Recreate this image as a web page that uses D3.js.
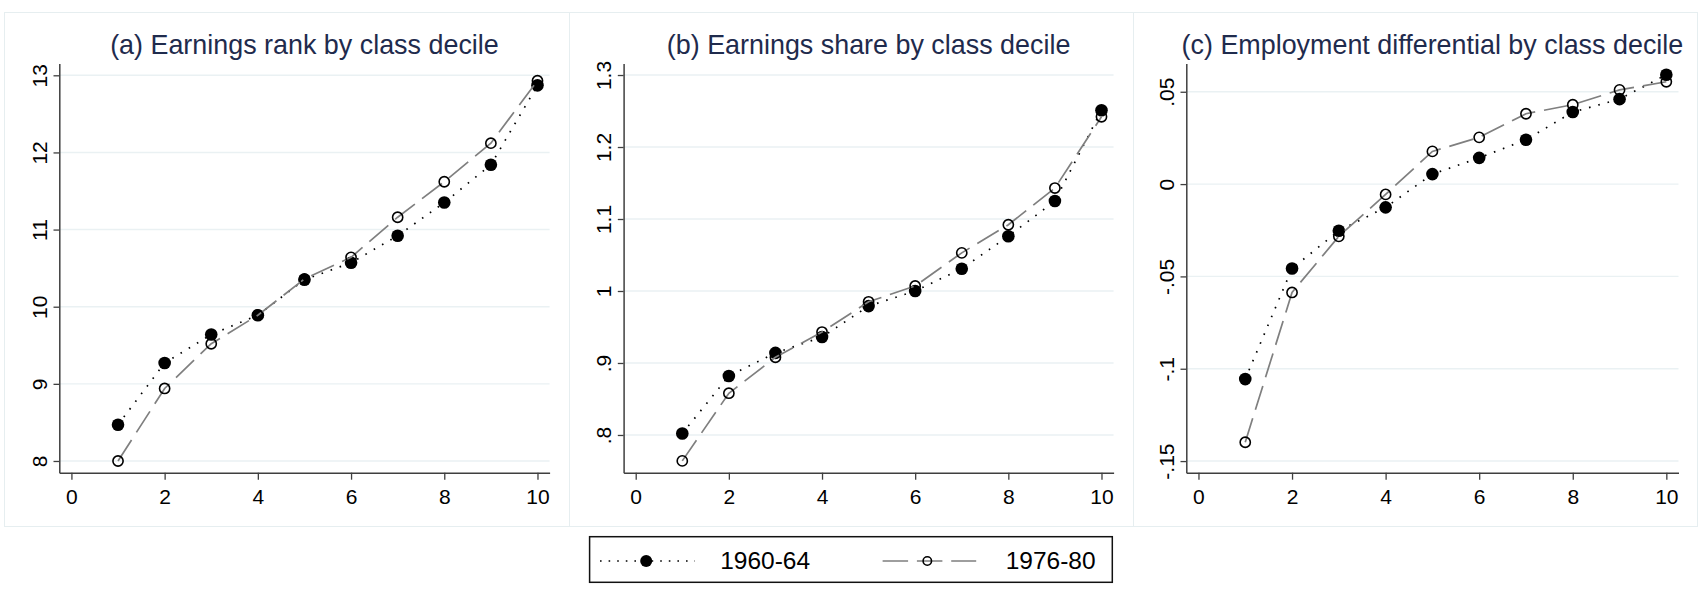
<!DOCTYPE html>
<html>
<head>
<meta charset="utf-8">
<script src="https://cdn.jsdelivr.net/npm/d3@7"></script>
<style>
  body { margin: 0; background: #fff; }
  svg { font-family: "Liberation Sans", Arial, sans-serif; display: block; }
</style>
</head>
<body>
<svg id="chart"></svg>
<script>
// class deciles on the x axis
const deciles = [1, 2, 3, 4, 5, 6, 7, 8, 9, 10];
const seriesNames = ["1960-64", "1976-80"];

// (a) earnings rank
const rank6064 = [8.47, 9.27, 9.64, 9.89, 10.35, 10.57, 10.92, 11.35, 11.84, 12.87];
const rank7680 = [8.0, 8.94, 9.52, 9.89, 10.36, 10.64, 11.16, 11.62, 12.12, 12.93];
// (b) earnings share
const share6064 = [0.802, 0.882, 0.914, 0.936, 0.979, 1.0, 1.031, 1.076, 1.125, 1.251];
const share7680 = [0.764, 0.858, 0.908, 0.943, 0.985, 1.007, 1.053, 1.092, 1.143, 1.242];
// (c) employment differential
const emp6064 = [-0.1056, -0.0457, -0.0253, -0.0126, 0.0054, 0.0142, 0.024, 0.039, 0.046, 0.0592];
const emp7680 = [-0.1398, -0.0587, -0.0283, -0.0056, 0.0177, 0.0253, 0.0381, 0.043, 0.051, 0.0554];

const titles = [
  "(a) Earnings rank by class decile",
  "(b) Earnings share by class decile",
  "(c) Employment differential by class decile"
];
const xTicks = [0, 2, 4, 6, 8, 10];
const rankTicks = [8, 9, 10, 11, 12, 13];
const shareTicks = [0.8, 0.9, 1.0, 1.1, 1.2, 1.3];
const empTicks = [-0.15, -0.1, -0.05, 0, 0.05];

// Stata style numbers: no leading zero
const stataFmt = v => {
  const s = String(+v.toFixed(3));
  return s.replace(/^0\./, ".").replace(/^-0\./, "-.");
};

const W = 1704, H = 592;
const svg = d3.select("#chart").attr("width", W).attr("height", H);

const plotTop = 63.5, plotBottom = 472.7;
const navy = "#1f2b4d";
const gridColor = "#eaf1f3";
const axisColor = "#3f3f3f";
const tickFont = 21;

const panels = [
  { left: 4, right: 569, axisX: 59.3, plotRight: 549.6, yDomain: [7.848, 13.153],
    ticks: rankTicks, fmt: d3.format("d"), s1: rank6064, s2: rank7680 },
  { left: 569, right: 1133, axisX: 623.6, plotRight: 1113.6, yDomain: [0.7476, 1.316],
    ticks: shareTicks, fmt: stataFmt, s1: share6064, s2: share7680 },
  { left: 1133, right: 1697, axisX: 1186.3, plotRight: 1678.5, yDomain: [-0.1563, 0.0653],
    ticks: empTicks, fmt: stataFmt, s1: emp6064, s2: emp7680 }
];

panels.forEach(function (p, i) {
  const g = svg.append("g");

  // faint panel frame
  g.append("rect")
    .attr("x", p.left + 0.5).attr("y", 12.5)
    .attr("width", p.right - p.left).attr("height", 514)
    .attr("fill", "none").attr("stroke", "#e6eef0").attr("stroke-width", 1);

  const x = d3.scaleLinear().domain([-0.26, 10.26]).range([p.axisX, p.plotRight]);
  const y = d3.scaleLinear().domain(p.yDomain).range([plotBottom, plotTop]);

  // horizontal grid lines
  g.selectAll(".grid")
    .data(p.ticks)
    .join("line")
    .attr("class", "grid")
    .attr("x1", p.axisX).attr("x2", p.plotRight)
    .attr("y1", d => y(d)).attr("y2", d => y(d))
    .attr("stroke", gridColor).attr("stroke-width", 1.4);

  // title
  g.append("text")
    .attr("x", (p.axisX + p.plotRight) / 2)
    .attr("y", 54)
    .attr("text-anchor", "middle")
    .attr("font-size", 26.9)
    .attr("fill", navy)
    .text(titles[i]);

  // x axis
  const xAxis = g.append("g")
    .attr("transform", "translate(0," + plotBottom + ")")
    .call(d3.axisBottom(x).tickValues(xTicks).tickSize(7).tickSizeOuter(0).tickPadding(9));
  xAxis.selectAll("text").attr("font-size", tickFont).attr("fill", "#000")
    .attr("font-family", "Liberation Sans, Arial, sans-serif");

  // y axis with rotated labels
  const yAxis = g.append("g")
    .attr("transform", "translate(" + p.axisX + ",0)")
    .call(d3.axisLeft(y).tickValues(p.ticks).tickSize(5.8).tickSizeOuter(0).tickFormat(p.fmt));
  yAxis.selectAll("text")
    .attr("x", null).attr("dy", null)
    .attr("transform", "translate(-12.5,0) rotate(-90)")
    .attr("text-anchor", "middle")
    .attr("font-size", tickFont).attr("fill", "#000")
    .attr("font-family", "Liberation Sans, Arial, sans-serif");

  [xAxis, yAxis].forEach(a => {
    a.select(".domain").attr("stroke", axisColor).attr("stroke-width", 1.5);
    a.selectAll(".tick line").attr("stroke", axisColor).attr("stroke-width", 1.3);
  });

  const line = d3.line().x(d => x(d[0])).y(d => y(d[1]));
  const d1 = deciles.map((k, j) => [k, p.s1[j]]);
  const d2 = deciles.map((k, j) => [k, p.s2[j]]);

  // 1960-64: dotted black with filled circles
  g.append("path").datum(d1)
    .attr("d", line).attr("fill", "none")
    .attr("stroke", "#000").attr("stroke-width", 1.7)
    .attr("stroke-dasharray", "1.6,8");
  g.selectAll(".m1").data(d1).join("circle")
    .attr("class", "m1")
    .attr("cx", d => x(d[0])).attr("cy", d => y(d[1]))
    .attr("r", 6.3).attr("fill", "#000");

  // 1976-80: long dash gray with hollow circles
  g.append("path").datum(d2)
    .attr("d", line).attr("fill", "none")
    .attr("stroke", "#7f7f7f").attr("stroke-width", 1.7)
    .attr("stroke-dasharray", "25,9");
  g.selectAll(".m2").data(d2).join("circle")
    .attr("class", "m2")
    .attr("cx", d => x(d[0])).attr("cy", d => y(d[1]))
    .attr("r", 5.1).attr("fill", "none")
    .attr("stroke", "#000").attr("stroke-width", 1.6);
});

// legend
const legend = svg.append("g");
legend.append("rect")
  .attr("x", 589.6).attr("y", 536.7)
  .attr("width", 522.7).attr("height", 45.6)
  .attr("fill", "#fff").attr("stroke", "#111").attr("stroke-width", 1.5);

const keys = [
  { x1: 600, x2: 695, mx: 646.2, tx: 720.2, dash: "1.6,7", color: "#000", filled: true },
  { x1: 882.6, x2: 976.2, mx: 927.3, tx: 1005.7, dash: "25.5,8.8", color: "#7f7f7f", filled: false }
];
keys.forEach(function (k, i) {
  legend.append("line")
    .attr("x1", k.x1).attr("x2", k.x2).attr("y1", 561).attr("y2", 561)
    .attr("stroke", k.color).attr("stroke-width", 1.7)
    .attr("stroke-dasharray", k.dash);
  legend.append("circle")
    .attr("cx", k.mx).attr("cy", 561)
    .attr("r", k.filled ? 6 : 4.2)
    .attr("fill", k.filled ? "#000" : "none")
    .attr("stroke", k.filled ? "none" : "#000")
    .attr("stroke-width", 1.6);
  legend.append("text")
    .attr("x", k.tx).attr("y", 568.5)
    .attr("font-size", 24.5).attr("fill", "#000")
    .text(seriesNames[i]);
});
</script>
</body>
</html>
